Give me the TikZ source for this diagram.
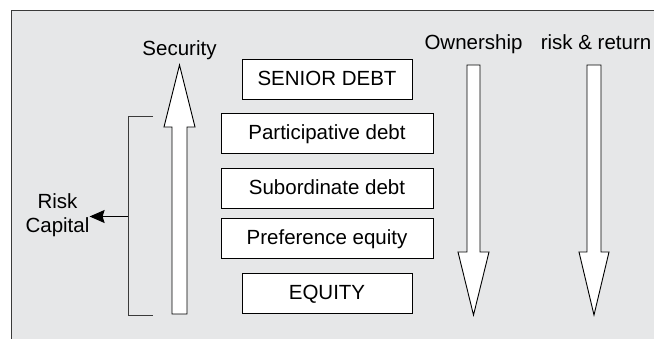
\documentclass[tikz,border=0pt]{standalone}
\usepackage{fontspec}
\setmainfont{Liberation Sans}
\usepackage{tikz}
\usetikzlibrary{arrows.meta}
\definecolor{panelgray}{HTML}{E6E7E8}
\definecolor{framegray}{HTML}{3A3A3A}

\begin{document}
\begin{tikzpicture}[x=1pt,y=-1pt,line join=miter]
\tikzstyle{every node}+=[inner sep=0pt,font=\fontsize{20.5}{24}\selectfont]
\tikzstyle{layer}=[draw=black,fill=white,line width=1pt,minimum height=40pt,text height=15pt,text depth=3pt]
\tikzstyle{blockarrow}=[draw=black,fill=white,line width=0.9pt]
\useasboundingbox (0,0) rectangle (654,339);
\fill [panelgray] (11,11) rectangle (654,339);
\draw [framegray,line width=1pt] (654,11) -- (11,11) -- (11,339);
\node [layer,minimum width=170pt] (senior) at (327,80) {SENIOR DEBT};
\node [layer,minimum width=212pt] (partic) at (327,133.5) {Participative debt};
\node [layer,minimum width=212pt] (subord) at (327,188.5) {Subordinate debt};
\node [layer,minimum width=212pt] (prefer) at (327,238.5) {Preference equity};
\node [layer,minimum width=170pt] (equity) at (327,293.5) {EQUITY};
\node [anchor=base] (security) at (179.5,56) {Security};
\node [anchor=base] (owner) at (473.5,50) {Ownership};
\node [anchor=base] (riskret) at (596,50) {risk \& return};
\node [align=center] (riskcap) at (57.5,215) {Risk\\Capital};
\draw [blockarrow] (172,314) -- (172,127) -- (164,127) -- (179.5,65) -- (195,127) -- (187,127) -- (187,314) -- cycle;
\draw [blockarrow] (467,65) -- (467,252) -- (458,252) -- (473.5,315) -- (489,252) -- (480,252) -- (480,65) -- cycle;
\draw [blockarrow] (587,65) -- (587,252) -- (579,252) -- (594,315) -- (609,252) -- (601,252) -- (601,65) -- cycle;
\draw [framegray,line width=1pt] (153,117) -- (128,117) coordinate (btop) -- (128,316) -- (153,316);
\coordinate (bmid) at (128,216.5);
\draw [black,line width=1pt,-{Stealth[length=15pt,width=13pt,inset=2pt]}] (bmid) -- (bmid -| riskcap.east);
\end{tikzpicture}
\end{document}
